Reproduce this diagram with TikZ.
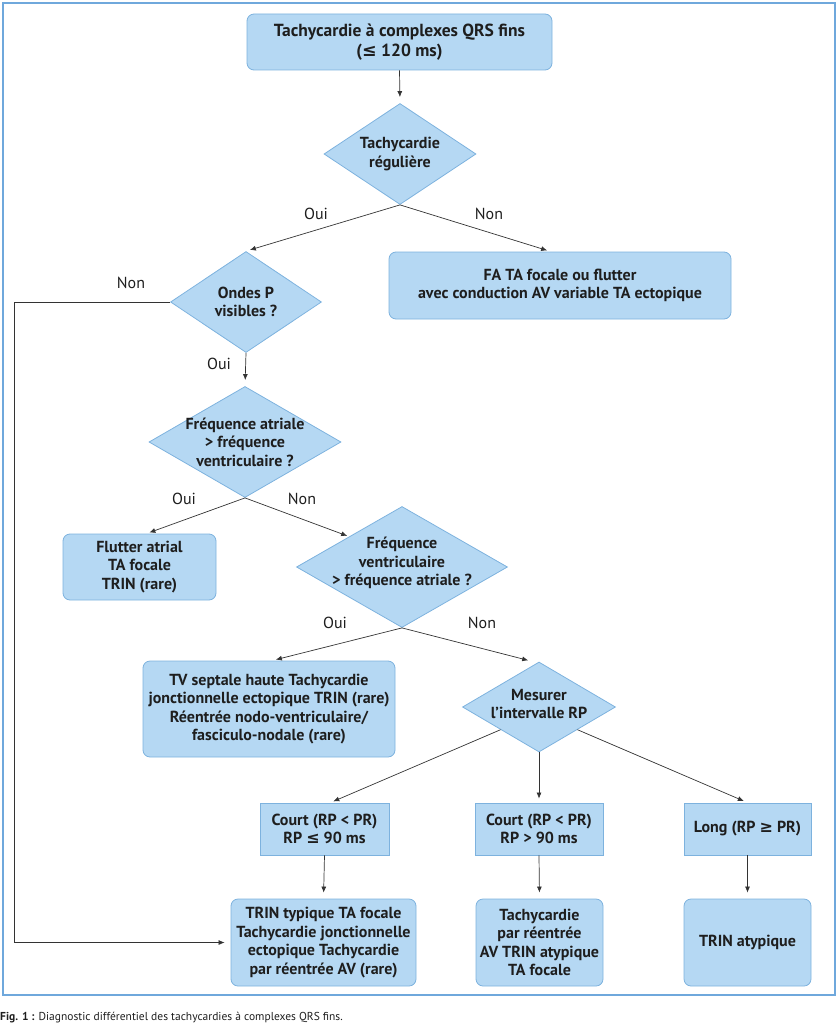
\documentclass[tikz,border=0pt]{standalone}
\usepackage{fontspec}
\setmainfont{PT Sans}
\newfontfamily\symf{DejaVu Sans}
\newcommand{\mle}{{\symf ≤}}
\newcommand{\mge}{{\symf ≥}}
\usetikzlibrary{shapes.geometric,arrows.meta}
\definecolor{boxfill}{HTML}{B5D8F3}
\definecolor{boxline}{HTML}{7DB2DE}
\definecolor{frameblue}{HTML}{6FA8DC}
\definecolor{arrowgray}{HTML}{333333}
\definecolor{txtcol}{HTML}{1E1E1E}
\begin{document}
\begin{tikzpicture}[x=1pt,y=-1pt,
  box/.style={draw=boxline, fill=boxfill, rounded corners=7pt, line width=0.8pt, align=center, text=txtcol, font=\bfseries\fontsize{16}{18.5}\selectfont, inner sep=0pt},
  sqbox/.style={box, rounded corners=0pt},
  dia/.style={diamond, draw=boxline, fill=boxfill, line width=0.8pt, inner sep=0pt},
  dtxt/.style={align=center, text=txtcol, font=\bfseries\fontsize{16}{18.5}\selectfont, inner sep=0pt},
  lbl/.style={font=\fontsize{16}{17}\selectfont, text=txtcol, inner sep=0pt},
  conn/.style={draw=arrowgray, line width=0.7pt, -{Latex[length=6pt,width=5pt]}},
]
\useasboundingbox (0,0) rectangle (838,1024);
\draw[frameblue, line width=2pt] (3,3) rectangle (835,995);

% boxes
\node[box, minimum width=305pt, minimum height=56pt, font=\bfseries\fontsize{17.5}{20}\selectfont] (top) at (399.5,42) {Tachycardie à complexes QRS fins\\(\mle{} 120 ms)};
\node[dia, minimum width=152pt, minimum height=101pt, label={[dtxt]center:{Tachycardie\\régulière}}] (d1) at (400,154) {};
\node[dia, minimum width=151pt, minimum height=101pt, label={[dtxt]center:{Ondes P\\visibles ?}}] (d2) at (246,302) {};
\node[box, minimum width=342pt, minimum height=67pt] (fa) at (560,285.5) {FA TA focale ou flutter\\avec conduction AV variable TA ectopique};
\node[dia, minimum width=192pt, minimum height=111pt, label={[dtxt]center:{Fréquence atriale\\> fréquence\\ventriculaire ?}}] (d3) at (245,442) {};
\node[box, minimum width=153pt, minimum height=66pt] (flut) at (139.5,567) {Flutter atrial\\TA focale\\TRIN (rare)};
\node[dia, minimum width=211pt, minimum height=121pt, label={[dtxt, yshift=4pt]center:{Fréquence\\ventriculaire\\> fréquence atriale ?}}] (d4) at (402,567) {};
\node[box, minimum width=252pt, minimum height=96pt] (tv) at (269,709) {TV septale haute Tachycardie\\jonctionnelle ectopique TRIN (rare)\\Réentrée nodo-ventriculaire/\\fasciculo-nodale (rare)};
\node[dia, minimum width=153pt, minimum height=90pt, label={[dtxt, yshift=3pt]center:{Mesurer\\l’intervalle RP}}] (d5) at (539,707) {};
\node[sqbox, minimum width=129pt, minimum height=52pt] (c1) at (324.5,829) {Court (RP < PR)\\RP \mle{} 90 ms};
\node[sqbox, minimum width=128pt, minimum height=52pt] (c2) at (539,829) {Court (RP < PR)\\RP > 90 ms};
\node[sqbox, minimum width=127pt, minimum height=52pt] (c3) at (747.5,829) {Long (RP \mge{} PR)};
\node[box, minimum width=185pt, minimum height=87pt] (r1) at (323.5,942.5) {TRIN typique TA focale\\Tachycardie jonctionnelle\\ectopique Tachycardie\\par réentrée AV (rare)};
\node[box, minimum width=127pt, minimum height=87pt] (r2) at (539.5,942.5) {Tachycardie\\par réentrée\\AV TRIN atypique\\TA focale};
\node[box, minimum width=127pt, minimum height=87pt] (r3) at (747.5,942.5) {TRIN atypique};

% connectors
\draw[conn, shorten >=6pt] (top.south) -- (d1.north);
\draw[conn, shorten >=4pt] (d1.south) -- (d2.north);
\draw[conn, shorten >=4pt] (d1.south) -- ([xshift=-9pt]fa.north);
\coordinate (lc) at (14,302);
\draw[conn, shorten >=6pt] (d2.west) -- (lc) |- (r1.west);
\draw[conn, shorten >=6pt] (d2.south) -- (d3.north);
\draw[conn, shorten >=3pt] (d3.south) -- ([xshift=7pt]flut.north);
\draw[conn, shorten >=2pt] (d3.south) -- (d4.north west);
\draw[conn, shorten >=4pt] (d4.south) -- ([xshift=3pt]tv.north);
\draw[conn, shorten >=5pt] (d4.south) -- ([xshift=-6pt]d5.north);
\draw[conn, shorten >=3pt] (d5.south west) -- ([xshift=6pt]c1.north);
\draw[conn, shorten >=4pt] (d5.south) -- (c2.north);
\draw[conn, shorten >=4pt] (d5.south east) -- (c3.north);
\draw[conn, shorten >=6pt] (c1.south) -- (r1.north);
\draw[conn, shorten >=6pt] (c2.south) -- (r2.north);
\draw[conn, shorten >=6pt] (c3.south) -- (r3.north);

% labels
\node[lbl] (l1) at (316,214) {Oui};
\node[lbl] (l2) at (489,214) {Non};
\node[lbl] (l3) at (131,283) {Non};
\node[lbl] (l4) at (219,364) {Oui};
\node[lbl] (l5) at (184,499) {Oui};
\node[lbl] (l6) at (302,499) {Non};
\node[lbl] (l7) at (335,623) {Oui};
\node[lbl] (l8) at (482,623) {Non};

% caption
\node[anchor=west, inner sep=0pt, text=txtcol, font=\fontsize{11.5}{13}\selectfont] (cap) at (0,1018) {\textbf{Fig. 1 :} Diagnostic différentiel des tachycardies à complexes QRS fins.};
\end{tikzpicture}
\end{document}
